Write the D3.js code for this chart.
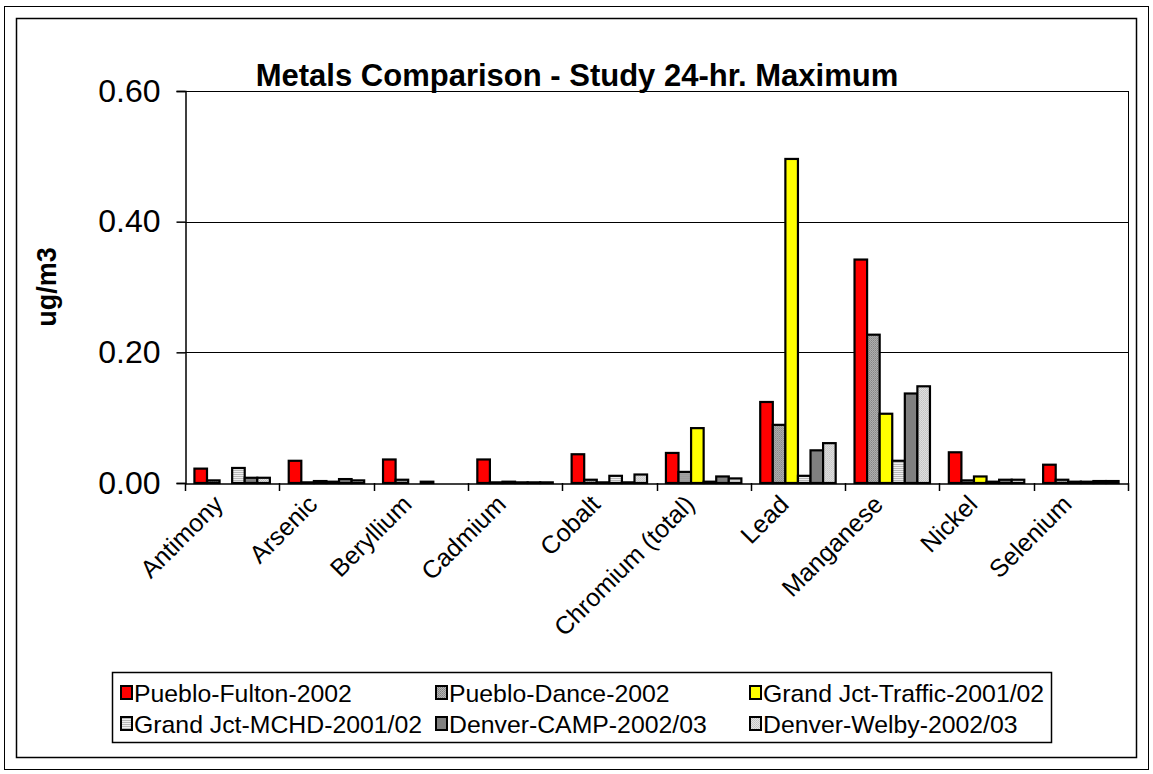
<!DOCTYPE html>
<html>
<head>
<meta charset="utf-8">
<script src="https://cdn.jsdelivr.net/npm/d3@7"></script>
<style>
  html, body { margin: 0; padding: 0; background: #fff; }
  svg { display: block; font-family: Arial, "Liberation Sans", sans-serif; }
</style>
</head>
<body>
<svg id="chart" width="1153" height="774"></svg>
<script>
const categories = ["Antimony", "Arsenic", "Beryllium", "Cadmium", "Cobalt", "Chromium (total)", "Lead", "Manganese", "Nickel", "Selenium"];
const seriesNames = ["Pueblo-Fulton-2002", "Pueblo-Dance-2002", "Grand Jct-Traffic-2001/02", "Grand Jct-MCHD-2001/02", "Denver-CAMP-2002/03", "Denver-Welby-2002/03"];
const puebloFulton  = [0.022, 0.034, 0.036, 0.036, 0.044, 0.046, 0.124, 0.342, 0.047, 0.028];
const puebloDance   = [0.004, 0.001, 0.005, 0.001, 0.005, 0.017, 0.089, 0.227, 0.004, 0.005];
const gjTraffic     = [0.000, 0.003, 0.000, 0.002, 0.001, 0.084, 0.496, 0.106, 0.010, 0.002];
const gjMCHD        = [0.023, 0.002, 0.002, 0.001, 0.011, 0.002, 0.011, 0.034, 0.002, 0.002];
const denverCAMP    = [0.008, 0.006, 0.000, 0.001, 0.001, 0.010, 0.050, 0.137, 0.005, 0.003];
const denverWelby   = [0.008, 0.004, 0.000, 0.001, 0.013, 0.007, 0.061, 0.148, 0.005, 0.003];
const yTicks = [0, 0.2, 0.4, 0.6];
const seriesValues = [puebloFulton, puebloDance, gjTraffic, gjMCHD, denverCAMP, denverWelby];

const svg = d3.select("#chart");
const FONT = "Arial, 'Liberation Sans', sans-serif";

// patterns
const defs = svg.append("defs");
const pDance = defs.append("pattern").attr("id", "pDance").attr("width", 2).attr("height", 2).attr("patternUnits", "userSpaceOnUse");
pDance.append("rect").attr("width", 2).attr("height", 2).attr("fill", "#b4b4b4");
pDance.append("rect").attr("width", 1).attr("height", 1).attr("fill", "#808080");
pDance.append("rect").attr("x", 1).attr("y", 1).attr("width", 1).attr("height", 1).attr("fill", "#909090");
const pMCHD = defs.append("pattern").attr("id", "pMCHD").attr("width", 4).attr("height", 2).attr("patternUnits", "userSpaceOnUse");
pMCHD.append("rect").attr("width", 4).attr("height", 2).attr("fill", "#f0f0f0");
pMCHD.append("rect").attr("width", 4).attr("height", 1).attr("fill", "#b8b8b8");
const pWelby = defs.append("pattern").attr("id", "pWelby").attr("width", 2).attr("height", 2).attr("patternUnits", "userSpaceOnUse");
pWelby.append("rect").attr("width", 2).attr("height", 2).attr("fill", "#e4e4e4");
pWelby.append("rect").attr("width", 1).attr("height", 1).attr("fill", "#c0c0c0");
pWelby.append("rect").attr("x", 1).attr("y", 1).attr("width", 1).attr("height", 1).attr("fill", "#c8c8c8");

const fills = ["#ff0000", "url(#pDance)", "#ffff00", "url(#pMCHD)", "#808080", "url(#pWelby)"];

// frames
svg.append("rect").attr("x", 4.5).attr("y", 6.5).attr("width", 1144).attr("height", 763).attr("fill", "#fff").attr("stroke", "#000").attr("stroke-width", 1);
svg.append("rect").attr("x", 16.5).attr("y", 18.5).attr("width", 1120).attr("height", 739).attr("fill", "#fff").attr("stroke", "#000").attr("stroke-width", 1.5);

const plot = { left: 185, right: 1128, top: 91, bottom: 483 };

const x0 = d3.scaleBand().domain(categories).range([plot.left, plot.right]).paddingInner(0).paddingOuter(0);
const x1 = d3.scaleBand().domain(d3.range(6)).range([0, x0.bandwidth()]).paddingOuter(0.75).paddingInner(0);
const y = d3.scaleLinear().domain([0, 0.6]).range([plot.bottom, plot.top]);

// gridlines
svg.append("g").selectAll("line").data(yTicks.filter(d => d > 0)).join("line")
  .attr("x1", plot.left).attr("x2", plot.right)
  .attr("y1", d => Math.round(y(d)) + 0.5).attr("y2", d => Math.round(y(d)) + 0.5)
  .attr("stroke", "#000").attr("stroke-width", 1);
// right plot border
svg.append("line").attr("x1", plot.right + 0.5).attr("x2", plot.right + 0.5)
  .attr("y1", plot.top).attr("y2", plot.bottom).attr("stroke", "#000").attr("stroke-width", 1);

// bars
const groups = svg.append("g").selectAll("g").data(categories).join("g")
  .attr("transform", d => `translate(${x0(d)},0)`);
groups.selectAll("rect").data((c, ci) => seriesValues.map((vals, si) => ({ si, v: vals[ci] })))
  .join("rect")
  .filter(d => d.v > 0)
  .attr("x", d => x1(d.si))
  .attr("y", d => y(d.v))
  .attr("width", x1.bandwidth())
  .attr("height", d => y(0) - y(d.v))
  .attr("fill", d => fills[d.si])
  .attr("stroke", "#000")
  .attr("stroke-width", 2.2);

// y axis
const yAxis = d3.axisLeft(y).tickValues(yTicks).tickFormat(d3.format(".2f")).tickSize(9).tickPadding(16);
const yg = svg.append("g").attr("transform", `translate(${plot.left + 0.5},0)`).call(yAxis);
yg.select(".domain").attr("stroke", "#000").attr("stroke-width", 1.5);
yg.selectAll(".tick line").attr("stroke", "#000").attr("stroke-width", 1.5);
yg.selectAll(".tick text").attr("font-size", 32).attr("fill", "#000").attr("font-family", FONT);

// x axis
const xAxis = d3.axisBottom(x0).tickSize(0).tickFormat(d => d);
const xg = svg.append("g").attr("transform", `translate(0,${plot.bottom + 0.5})`).call(xAxis);
xg.select(".domain").attr("stroke", "#000").attr("stroke-width", 1.5);
xg.selectAll(".tick text")
  .attr("font-size", 25).attr("fill", "#000").attr("font-family", FONT)
  .attr("text-anchor", "end")
  .attr("transform", "translate(-20,10) rotate(-45)")
  .attr("dy", "0.7em").attr("y", 0);
// category boundary ticks
svg.append("g").selectAll("line").data(categories.concat([null])).join("line")
  .attr("x1", (d, i) => Math.round(plot.left + i * x0.bandwidth()) + 0.5)
  .attr("x2", (d, i) => Math.round(plot.left + i * x0.bandwidth()) + 0.5)
  .attr("y1", plot.bottom).attr("y2", plot.bottom + 8)
  .attr("stroke", "#000").attr("stroke-width", 1.5);

// title
svg.append("text").attr("x", 577).attr("y", 86).attr("text-anchor", "middle")
  .attr("font-size", 31).attr("font-weight", "bold").text("Metals Comparison - Study 24-hr. Maximum");

// y title
svg.append("text").attr("transform", "translate(56,287) rotate(-90)").attr("text-anchor", "middle")
  .attr("font-size", 27).attr("font-weight", "bold").text("ug/m3");

// legend
const lg = svg.append("g");
lg.append("rect").attr("x", 112.5).attr("y", 672.5).attr("width", 939).attr("height", 70)
  .attr("fill", "#fff").attr("stroke", "#000").attr("stroke-width", 1.5);
const colX = [121, 436, 750];
const rowY = [693, 724];
const items = lg.selectAll("g").data(seriesNames).join("g")
  .attr("transform", (d, i) => `translate(${colX[i % 3]},${rowY[Math.floor(i / 3)]})`);
items.append("rect").attr("x", 0).attr("y", -7).attr("width", 11).attr("height", 13)
  .attr("fill", (d, i) => fills[i]).attr("stroke", "#000").attr("stroke-width", 2);
items.append("text").attr("x", 13).attr("y", 0).attr("dy", "0.36em")
  .attr("font-size", 24.8).text(d => d);
</script>
</body>
</html>
